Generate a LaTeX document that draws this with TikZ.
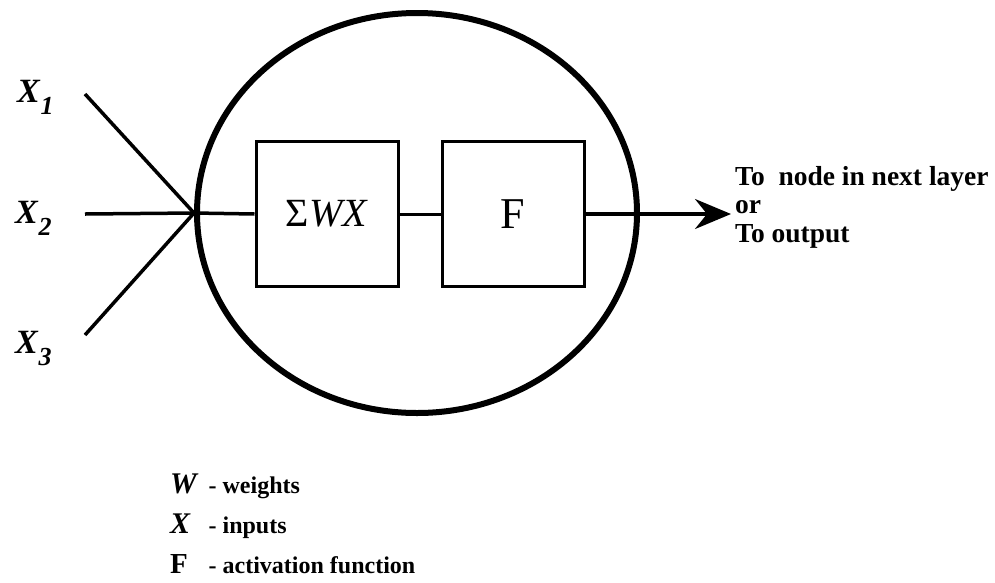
\documentclass[tikz,border=0pt]{standalone}
\usepackage{fontspec}
\setmainfont{Liberation Serif}
\usetikzlibrary{arrows.meta,shapes.geometric}
\newcommand\subx[1]{\raisebox{-12pt}{\fontsize{26}{26}\selectfont\textit{#1}}}
\begin{document}
\begin{tikzpicture}[x=1pt,y=-1pt,
  boxnode/.style={draw, line width=3pt, minimum width=142pt, minimum height=145pt, inner sep=0pt},
  inline/.style={line width=3.5pt},
  lbl/.style={inner sep=0pt, anchor=base west, font=\bfseries\fontsize{34}{40}\selectfont}]
\useasboundingbox (0,0) rectangle (995,582);
\node[draw, ellipse, line width=6pt, minimum width=440pt, minimum height=400pt, inner sep=0pt] (neuron) at (417,213) {};
\node[boxnode, font=\fontsize{40}{48}\selectfont] (sum) at (327,214) {Σ\textit{WX}};
\node[boxnode, font=\fontsize{44}{48}\selectfont] (fbox) at (513,214) {F};
\coordinate (i1) at (85,94);
\coordinate (i2) at (85,214);
\coordinate (i3) at (85,335);
\coordinate (outtip) at (731,214);
\draw[inline] (i1) -- (neuron.west);
\draw[inline] (i3) -- (neuron.west);
\draw[inline] (i2) -- (neuron.west) -- (sum.west);
\draw[line width=3pt] (sum.east) -- (fbox.west);
\draw[line width=3.5pt, -{Stealth[length=36pt, width=30pt, inset=12pt]}] (fbox.east) -- (outtip);
\node[lbl] (x1) at (17,102) {\textit{X}\subx{1}};
\node[lbl] (x2) at (15,223) {\textit{X}\subx{2}};
\node[lbl] (x3) at (15,353) {\textit{X}\subx{3}};
\node[anchor=base west, inner sep=0pt, font=\bfseries\fontsize{27.5}{28.5}\selectfont] (outtxt) at (735,185)
  {\begin{tabular}[t]{@{}l@{}}To\ \ node in next layer\\or\\To output\end{tabular}};
\node[anchor=base west, inner sep=0pt, font=\bfseries\fontsize{24}{40}\selectfont] (legend) at (170,493)
  {\begin{tabular}[t]{@{}l@{\hspace{10pt}}l@{}}
   {\fontsize{30}{30}\selectfont\textit{W}} & - weights\\
   {\fontsize{30}{30}\selectfont\textit{X}} & - inputs\\
   {\fontsize{29}{29}\selectfont F} & - activation function
  \end{tabular}};
\end{tikzpicture}
\end{document}
